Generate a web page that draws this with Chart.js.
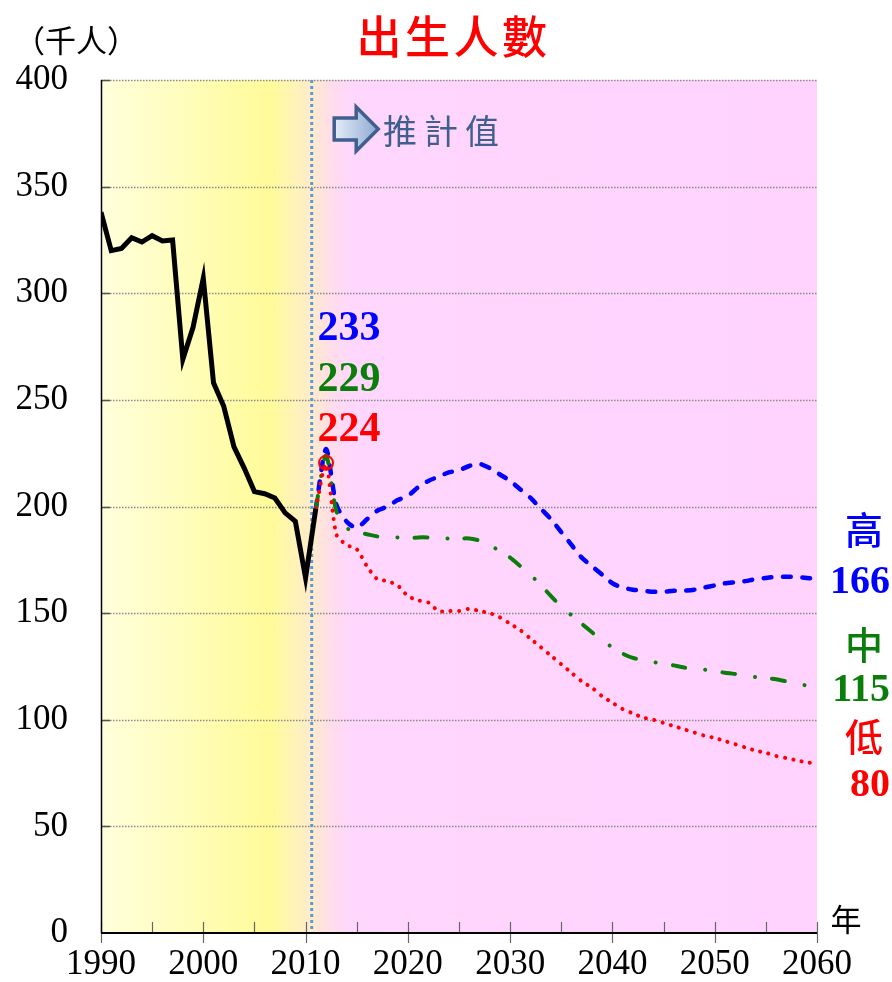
<!DOCTYPE html>
<html>
<head>
<meta charset="utf-8">
<script src="https://cdn.jsdelivr.net/npm/chart.js@4.4.1/dist/chart.umd.min.js"></script>
<style>
  html, body { margin: 0; padding: 0; background: #ffffff; }
  #wrap { width: 892px; height: 982px; position: relative; }
</style>
</head>
<body>
<div id="wrap"><canvas id="c" width="892" height="982"></canvas></div>
<script>
// ---------------- data ----------------
const histYears = [1990,1991,1992,1993,1994,1995,1996,1997,1998,1999,2000,2001,2002,2003,2004,2005,2006,2007,2008,2009,2010,2011];
const histBirths = [338,320,321,326,324,327,324.5,325,269,284,307,258,247,228,218,207,206,204,197,193,166.5,199];

const projYears = [2011,2012,2013,2014,2015,2016,2017,2018,2019,2020,
                   2021,2022,2023,2024,2025,2026,2027,2028,2029,2030,
                   2031,2032,2033,2034,2035,2036,2037,2038,2039,2040,
                   2041,2042,2043,2044,2045,2046,2047,2048,2049,2050,
                   2051,2052,2053,2054,2055,2056,2057,2058,2059,2060];
const highBirths = [199,227,201,193,190,194,198,200,203,205,
                    209,212,214,216,217,219,220,218,215,212,
                    208,204,199,194,188,182,176,172,168,164,
                    162,161,160.5,160,160,160.5,160.5,161,162,163,
                    164,164.5,165,166,166.5,167,167,167,166.5,166];
const midBirths  = [199,224,198,190,188,187,186,185.5,185.5,185,
                    185.5,185.5,185,185,185,185,184,182,179,176,
                    172,168,163,158,153,149,145,141,137,134,
                    131,129,128,127,126.5,125.5,124.5,124,123.5,123,
                    122,121.5,121,120,119.5,119,118,117,116,115];
const lowBirths  = [199,220,187,182,180,172,166,165,163,158,
                    156,155,151,151,151,152,151,150,148,145,
                    142,138,134,130,126,122,118,115,111,108,
                    105,103,101,100,98.5,97,95.5,94,92.5,91.5,
                    90,88.5,87,85.5,84.5,83,82,81,80,79.5];

const peakYear = 2012;
const peakCircleValue = 220.5;
const peakLabels = ['233','229','224'];
const endLabels = ['166','115','80'];
const variantNames = ['高','中','低'];
const projectionStartYear = 2010.6;

const xTickLabels = [1990,2000,2010,2020,2030,2040,2050,2060];
const yTickLabels = [0,50,100,150,200,250,300,350,400];

const title = '出生人數';
const yUnit = '（千人）';
const xUnit = '年';
const projText = '推計值';

// ---------------- styles ----------------
const BLUE = '#0000FF', GREEN = '#0A7D0A', RED = '#FF0000';

const toXY = (xs, ys) => xs.map((v, i) => ({ x: v, y: ys[i] }));

const bgPlugin = {
  id: 'bg',
  beforeDraw(chart) {
    const { ctx, chartArea: a, scales: { x } } = chart;
    const w = a.right - a.left;
    const g = ctx.createLinearGradient(a.left, 0, a.right, 0);
    const stop = (yr, c) => g.addColorStop(Math.min(1, Math.max(0, (x.getPixelForValue(yr) - a.left) / w)), c);
    stop(1990, '#FFFFDC');
    stop(2006.5, '#FFFB99');
    stop(2009, '#FFF3B8');
    stop(2010.6, '#FFEBCD');
    stop(2012.5, '#FFDDEA');
    stop(2014.5, '#FFD6FE');
    stop(2060, '#FFD3FE');
    ctx.save();
    ctx.fillStyle = g;
    ctx.fillRect(a.left, a.top, w, a.bottom - a.top);
    ctx.restore();
  },
  beforeDatasetsDraw(chart) {
    const { ctx, chartArea: a, scales: { x, y } } = chart;
    ctx.save();
    ctx.strokeStyle = '#8a8a8a';
    ctx.lineWidth = 1.5;
    ctx.setLineDash([1.5, 1.5]);
    yTickLabels.forEach(v => {
      if (v === 0) return;
      const py = Math.round(y.getPixelForValue(v)) + 0.5;
      ctx.beginPath(); ctx.moveTo(a.left, py); ctx.lineTo(a.right, py); ctx.stroke();
    });
    // projection start line
    ctx.strokeStyle = '#5B9BD5';
    ctx.lineWidth = 3;
    ctx.setLineDash([3, 3]);
    const px = x.getPixelForValue(projectionStartYear);
    ctx.beginPath(); ctx.moveTo(px, a.top); ctx.lineTo(px, a.bottom); ctx.stroke();
    ctx.restore();
  },
  afterDatasetsDraw(chart) {
    const { ctx, chartArea: a, scales: { x, y } } = chart;
    ctx.save();
    // y tick marks (inside)
    ctx.strokeStyle = '#555';
    ctx.lineWidth = 1.5;
    yTickLabels.forEach(v => {
      if (v === 0) return;
      const py = Math.round(y.getPixelForValue(v)) + 0.5;
      ctx.beginPath(); ctx.moveTo(a.left, py); ctx.lineTo(a.left + 9, py); ctx.stroke();
    });
    // x tick marks
    ctx.strokeStyle = '#666';
    ctx.lineWidth = 1.2;
    for (let yr = 1990; yr <= 2060; yr += 5) {
      const px = Math.round(x.getPixelForValue(yr)) + 0.5;
      const major = (yr % 10 === 0);
      ctx.beginPath();
      ctx.moveTo(px, a.bottom - 11);
      ctx.lineTo(px, major ? a.bottom + 10 : a.bottom);
      ctx.stroke();
    }
    // axes lines
    ctx.strokeStyle = '#000';
    ctx.lineWidth = 1.5;
    ctx.beginPath(); ctx.moveTo(a.left + 0.5, a.top); ctx.lineTo(a.left + 0.5, a.bottom); ctx.stroke();
    ctx.lineWidth = 2;
    ctx.beginPath(); ctx.moveTo(a.left, a.bottom); ctx.lineTo(a.right, a.bottom); ctx.stroke();
    ctx.restore();
  },
  afterDraw(chart) {
    const { ctx, chartArea: a, scales: { x, y } } = chart;
    ctx.save();
    // title
    ctx.fillStyle = RED;
    ctx.font = '500 45px "Noto Sans CJK TC"';
    ctx.textAlign = 'center';
    ctx.textBaseline = 'middle';
    [...title].forEach((ch, i) => ctx.fillText(ch, 379 + i * 48.5, 37));
    // unit labels
    ctx.fillStyle = '#000';
    ctx.font = '31px "Noto Sans CJK TC"';
    ctx.textAlign = 'left';
    ctx.fillText(yUnit, 14, 40);
    ctx.font = '31px "Noto Sans CJK TC"';
    ctx.textAlign = 'center';
    ctx.fillText(xUnit, 846, 919);

    // projection arrow
    const ax = x.getPixelForValue(2012.8), ay = 129;
    ctx.beginPath();
    ctx.moveTo(ax, ay - 11);
    ctx.lineTo(ax + 22, ay - 11);
    ctx.lineTo(ax + 22, ay - 22);
    ctx.lineTo(ax + 44, ay);
    ctx.lineTo(ax + 22, ay + 22);
    ctx.lineTo(ax + 22, ay + 11);
    ctx.lineTo(ax, ay + 11);
    ctx.closePath();
    const ag = ctx.createLinearGradient(ax, 0, ax + 44, 0);
    ag.addColorStop(0, '#E4ECF8');
    ag.addColorStop(1, '#8FA9D2');
    ctx.fillStyle = ag;
    ctx.fill();
    ctx.strokeStyle = '#3F5F8E';
    ctx.lineWidth = 3.5;
    ctx.lineJoin = 'miter';
    ctx.stroke();
    ctx.fillStyle = '#3F5F8E';
    ctx.font = '34px "Noto Sans CJK TC"';
    ctx.textAlign = 'center';
    [...projText].forEach((ch, i) => ctx.fillText(ch, 400 + i * 41, 131));

    // peak value labels
    const cols = [BLUE, GREEN, RED];
    const peakY = [284.2, 260.3, 236.8];
    ctx.font = 'bold 42px "Liberation Serif"';
    ctx.textAlign = 'center';
    ctx.textBaseline = 'middle';
    peakLabels.forEach((t, i) => {
      ctx.fillStyle = cols[i];
      ctx.fillText(t, x.getPixelForValue(2014.25), y.getPixelForValue(peakY[i]) + 2);
    });
    // end labels
    const nameY = [189.4, 135.1, 91.9];
    const endY = [165.1, 114.4, 69.9];
    variantNames.forEach((t, i) => {
      ctx.fillStyle = cols[i];
      ctx.font = '500 38px "Noto Sans CJK TC"';
      ctx.textAlign = 'center';
      ctx.fillText(t, 864, y.getPixelForValue(nameY[i]));
      ctx.font = 'bold 40px "Liberation Serif"';
      ctx.textAlign = 'right';
      ctx.fillText(endLabels[i], 890, y.getPixelForValue(endY[i]) + 2);
    });
    ctx.restore();
  }
};

new Chart(document.getElementById('c'), {
  type: 'line',
  data: {
    datasets: [
      { label: 'hist', data: toXY(histYears, histBirths), borderColor: '#000', borderWidth: 5,
        pointRadius: 0, tension: 0, borderJoinStyle: 'miter' },
      { label: 'circle', data: [{ x: peakYear, y: peakCircleValue }], showLine: false,
        pointRadius: 7, pointBorderWidth: 2, pointBorderColor: RED, pointBackgroundColor: 'rgba(0,0,0,0)' },
      { label: '低', data: toXY(projYears, lowBirths), borderColor: RED, borderWidth: 4,
        borderDash: [0.1, 8.4], borderCapStyle: 'round', pointRadius: 0, tension: 0.25 },
      { label: '中', data: toXY(projYears, midBirths), borderColor: GREEN, borderWidth: 4,
        borderDash: [13, 20, 0.1, 17], borderCapStyle: 'round', pointRadius: 0, tension: 0.25 },
      { label: '高', data: toXY(projYears, highBirths), borderColor: BLUE, borderWidth: 4.5,
        borderDash: [8, 11.5], borderCapStyle: 'round', pointRadius: 0, tension: 0.25 }
    ]
  },
  options: {
    responsive: false,
    animation: false,
    devicePixelRatio: 1,
    layout: { padding: { left: 0, right: 75, top: 80, bottom: 0 } },
    plugins: { legend: { display: false }, tooltip: { enabled: false } },
    scales: {
      x: {
        type: 'linear', min: 1990, max: 2060,
        afterBuildTicks: s => { s.ticks = xTickLabels.map(v => ({ value: v })); },
        afterFit: s => { s.height = 49; s.paddingLeft = 0; s.paddingRight = 0; },
        grid: { display: false, drawTicks: false },
        border: { display: false },
        ticks: { color: '#000', padding: 11, maxRotation: 0, autoSkip: false,
                 font: { family: 'Liberation Serif', size: 35 }, callback: v => String(v) }
      },
      y: {
        min: 0, max: 400,
        afterBuildTicks: s => { s.ticks = yTickLabels.map(v => ({ value: v })); },
        afterFit: s => { s.width = 101; s.paddingTop = 0; s.paddingBottom = 0; },
        grid: { display: false, drawTicks: false },
        border: { display: false },
        ticks: { color: '#000', padding: 33, autoSkip: false,
                 font: { family: 'Liberation Serif', size: 35 } }
      }
    }
  },
  plugins: [bgPlugin]
});
</script>
</body>
</html>
